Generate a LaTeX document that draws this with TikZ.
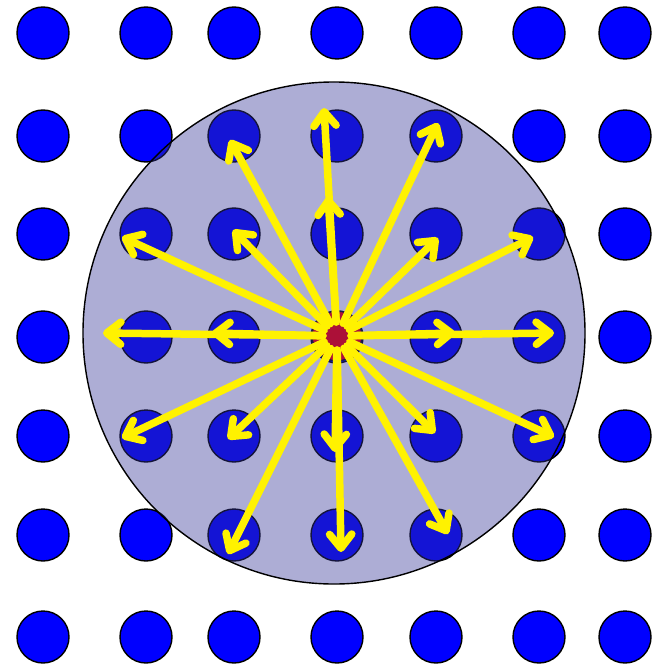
\documentclass[tikz,border=0pt]{standalone}
\usetikzlibrary{arrows.meta}

\definecolor{siteblue}{RGB}{0,0,255}
\definecolor{rangecol}{RGB}{50,50,150}
\definecolor{probered}{RGB}{172,16,56}

\begin{document}
\begin{tikzpicture}[
    x=0.03cm, y=-0.03cm,
    site/.style={circle, draw=black, line width=1.2pt, fill=siteblue,
                 minimum size=1.56cm, inner sep=0pt},
    cutoff/.style={circle, draw=black, line width=1.2pt, fill=rangecol,
                  fill opacity=0.4, minimum size=15.06cm, inner sep=0pt},
    probe/.style={circle, draw=rangecol!50!black, line width=1.2pt, fill=probered,
                  minimum size=1.5cm, inner sep=0pt},
    arrow/.style={-{Straight Barb[length=12pt, width=19pt, round]},
                  draw=yellow, line width=6.4pt, line cap=round, shorten <=12pt},
]
\useasboundingbox (0,0) rectangle (666,667);

% lattice sites
\foreach \x [count=\i] in {43,146,234,337,436,539,625}
  \foreach \y [count=\j] in {33,136,234,337,436,535,637}
    \node[site] (s\i\j) at (\x,\y) {};

% cutoff sphere and central atom
\node[cutoff] (sphere) at (334,333) {};
\node[probe] (probe) at (337,336) {};

% neighbour vectors
\foreach \n/\x/\y in {1/324/108, 2/328/197, 3/230/140, 4/438/123,
                      5/233/230, 6/438/238, 7/122/237, 8/533/237,
                      9/103/333, 10/212/333, 11/455/333, 12/554/333,
                      13/122/438, 14/228/439, 15/435/433, 16/554/437,
                      17/335/452, 18/341/552, 19/228/554, 20/448/534}
  \coordinate (t\n) at (\x,\y);

\foreach \n in {1,...,20}
  \draw[arrow] (probe.center) -- (t\n);

\end{tikzpicture}
\end{document}
